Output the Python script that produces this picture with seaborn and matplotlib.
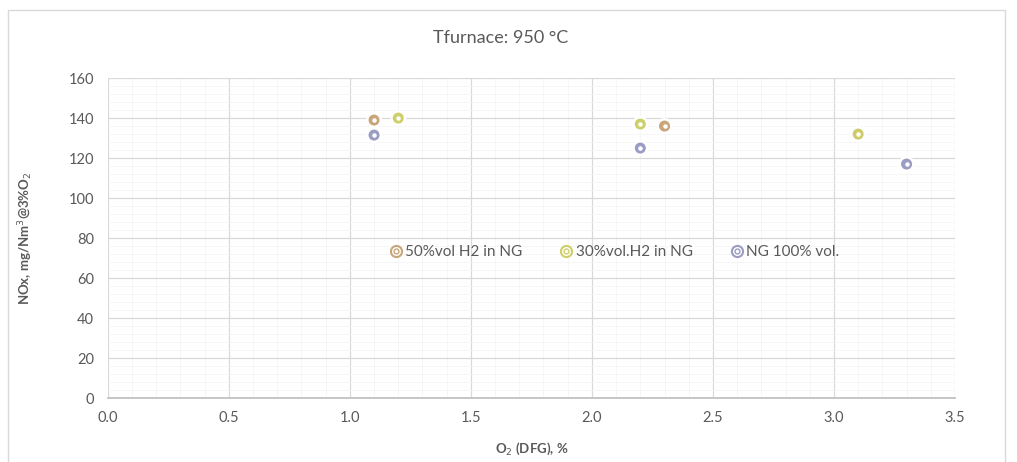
import pandas as pd
import numpy as np
import seaborn as sns
import matplotlib.pyplot as plt
from matplotlib.lines import Line2D
from matplotlib.patches import Rectangle
from matplotlib.ticker import MultipleLocator

# Data
series = ['50%vol H2 in NG', '30%vol.H2 in NG', 'NG 100% vol.']
o2_h2_50 = [1.1, 2.3, 3.1]
nox_h2_50 = [139, 136, 132]
o2_h2_30 = [1.2, 2.2, 3.1]
nox_h2_30 = [140, 137, 132]
o2_ng = [1.1, 2.2, 3.3]
nox_ng = [131.5, 125, 117]
colors = ['#c9a57a', '#cfcf6a', '#9a9cc4']

df = pd.concat([
    pd.DataFrame({'O2': o2_h2_50, 'NOx': nox_h2_50, 'Fuel': series[0]}),
    pd.DataFrame({'O2': o2_h2_30, 'NOx': nox_h2_30, 'Fuel': series[1]}),
    pd.DataFrame({'O2': o2_ng, 'NOx': nox_ng, 'Fuel': series[2]}),
])
palette = dict(zip(series, colors))

sns.set_theme(style="whitegrid")
plt.rcParams['font.family'] = ['Lato', 'DejaVu Sans']

fig = plt.figure(figsize=(10.17, 4.62), dpi=100)
ax = fig.add_axes([0.106, 0.1385, 0.833, 0.6925])

# outer ring then inner ring to get the double-circle marker
sns.scatterplot(data=df, x='O2', y='NOx', hue='Fuel', palette=palette, ax=ax,
                marker='o', s=95, facecolor='white', linewidth=1.8, legend=False, zorder=3)
for fuel in series:
    sub = df[df['Fuel'] == fuel]
    ax.scatter(sub['O2'], sub['NOx'], s=22, facecolor='white',
               edgecolor=palette[fuel], linewidth=1.4, zorder=4)

ax.set_xlim(0, 3.5)
ax.set_ylim(0, 160)
ax.xaxis.set_major_locator(MultipleLocator(0.5))
ax.yaxis.set_major_locator(MultipleLocator(20))
ax.xaxis.set_minor_locator(MultipleLocator(0.1))
ax.yaxis.set_minor_locator(MultipleLocator(4))
ax.xaxis.set_major_formatter(plt.FormatStrFormatter('%.1f'))
ax.grid(which='major', color='#d9d9d9', linewidth=0.9)
ax.grid(which='minor', color='#f5f5f5', linewidth=0.6)
ax.set_axisbelow(True)
for s in ['top', 'right', 'left']:
    ax.spines[s].set_visible(False)
ax.spines['bottom'].set_visible(True)
ax.spines['bottom'].set_color('#bfbfbf')
ax.tick_params(axis='both', which='both', length=0, labelsize=10.5, labelcolor='#595959')
ax.tick_params(axis='x', pad=9)
ax.tick_params(axis='y', pad=10)

ax.set_xlabel('O$_2$ (DFG), %', fontsize=9.5, fontweight='bold', color='#595959', labelpad=12)
ax.set_ylabel('NOx, mg/Nm$^3$@3%O$_2$', fontsize=9.5, fontweight='bold', color='#595959', labelpad=24)
fig.text(0.492, 0.918, 'Tfurnace: 950 °C', ha='center', va='center', fontsize=13, color='#595959')

handles = []
for fuel in series:
    outer = Line2D([], [], marker='o', linestyle='none', markersize=8, markerfacecolor='white',
                   markeredgecolor=palette[fuel], markeredgewidth=1.5)
    inner = Line2D([], [], marker='o', linestyle='none', markersize=3.5, markerfacecolor='white',
                   markeredgecolor=palette[fuel], markeredgewidth=1.0)
    handles.append((outer, inner))
ax.legend(handles, series, ncol=3, loc='center', bbox_to_anchor=(0.597, 0.456), frameon=False,
          fontsize=11, labelcolor='#595959', handletextpad=0.1, columnspacing=2.4, handlelength=1.0)

fig.patches.append(Rectangle((8 / 1017, -0.05), 997 / 1017, 1 - 10 / 462 + 0.05,
                             transform=fig.transFigure, fill=False, edgecolor='#d9d9d9', linewidth=1))

plt.savefig('out.png', dpi=100)
